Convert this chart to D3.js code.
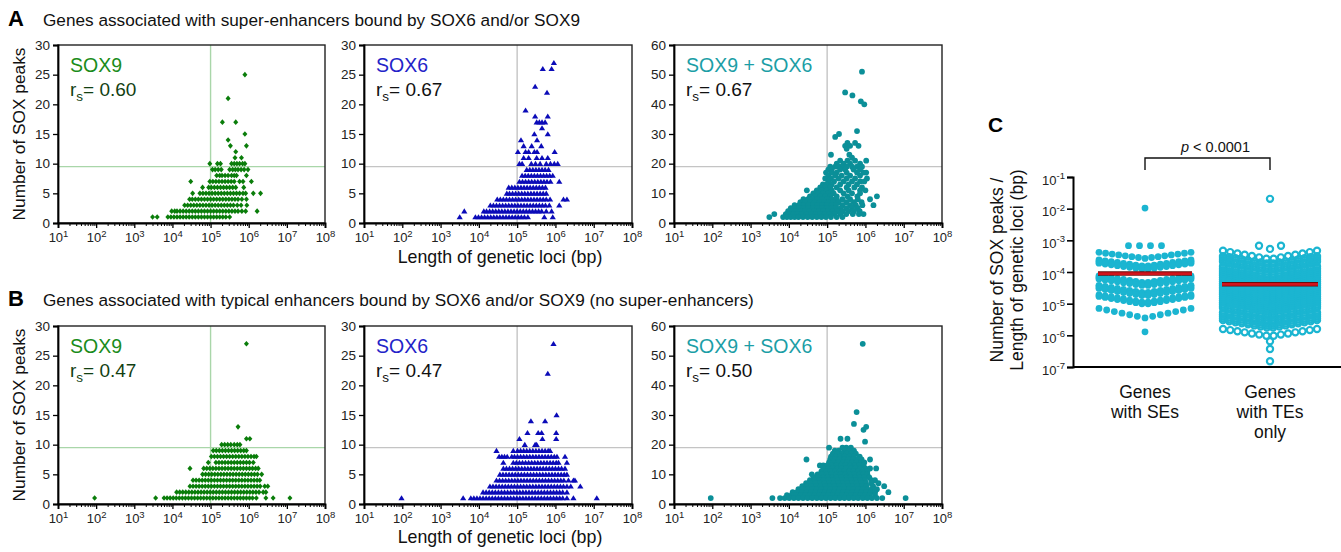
<!DOCTYPE html>
<html><head><meta charset="utf-8">
<script src="https://cdn.jsdelivr.net/npm/d3@7"></script>
<style>
body{margin:0;background:#fff}
text{font-family:"Liberation Sans",Arial,sans-serif}
</style>
</head><body>
<svg id="c" width="1341" height="552"></svg>
<script>
// ---------- DATA (x = log10 length of genetic locus, grouped by number of SOX peaks) ----------
const xTickExps = [1,2,3,4,5,6,7,8];
const yTicks30 = [0,5,10,15,20,25,30];
const yTicks60 = [0,10,20,30,40,50,60];
const cTickExps = [-1,-2,-3,-4,-5,-6,-7];
const panelLabels = ["SOX9","SOX6","SOX9 + SOX6"];
const rsA = ["0.60","0.67","0.67"];
const rsB = ["0.47","0.47","0.50"];
const refPeaks = [9.5, 9.5, 19];
const refLength = 1e5;

const aSox9 = [
 [25,[5.90]],[21,[5.46]],[17,[5.31,5.66]],[15,[5.90]],[14,[5.46]],[13,[5.52,5.94]],[12,[5.66]],[11,[5.64,5.81]],
 [10,[4.98,5.18,5.26,5.55,5.62,5.69,5.76,5.84,5.90]],
 [9,[5.05,5.12,5.20,5.28,5.50,5.58,5.65,5.72,5.80,5.88,5.98]],
 [8,[5.16,5.24,5.30,5.38,5.46,5.55,5.62,5.68,5.94]],
 [7,[4.48,4.98,5.06,5.14,5.22,5.30,5.38,5.46,5.54,5.62,5.76,5.85,6.07]],
 [6,[4.79,4.95,5.02,5.10,5.18,5.26,5.34,5.42,5.50,5.58,5.66,5.87]],
 [5,[4.53,4.72,4.80,4.88,4.96,5.04,5.12,5.20,5.28,5.36,5.44,5.52,5.60,5.68,5.76,5.85,5.92,6.12,6.31]],
 [4,[4.45,4.52,4.60,4.68,4.76,4.84,4.92,5.00,5.08,5.16,5.24,5.32,5.40,5.48,5.56,5.64,5.72,5.82,5.94]],
 [3,[4.32,4.40,4.48,4.56,4.64,4.72,4.80,4.88,4.96,5.04,5.12,5.20,5.28,5.36,5.44,5.52,5.60,5.70,5.80,5.95]],
 [2,[3.98,4.06,4.12,4.20,4.28,4.36,4.44,4.52,4.60,4.68,4.76,4.84,4.92,5.00,5.08,5.16,5.24,5.32,5.40,5.48,5.56,5.64,5.72,5.82,5.92,6.22]],
 [1,[3.48,3.60,3.88,3.96,4.04,4.12,4.20,4.28,4.36,4.44,4.52,4.60,4.68,4.76,4.84,4.92,5.00,5.08,5.16,5.24,5.32,5.40,5.50]]
];
const aSox6 = [
 [27,[5.96]],[26,[5.67,5.90]],[23,[5.47]],[22,[5.78]],[19,[5.22]],[18,[5.47,5.80]],[17,[5.51,5.58,5.65,5.73]],[16,[5.65]],
 [15,[5.45,5.80]],[14,[5.10,5.52]],[13,[5.17,5.38,5.63]],[12,[5.02,5.22,5.30,5.45,5.52,5.98]],[11,[5.17,5.30,5.51,5.65,5.80]],
 [10,[5.06,5.13,5.37,5.48,5.60,5.76,5.87,5.97,6.06]],
 [9,[5.25,5.33,5.41,5.49,5.57,5.65,5.73,5.82]],
 [8,[5.13,5.21,5.29,5.37,5.45,5.53,5.61,5.69,5.77,5.85,5.93]],
 [7,[5.06,5.14,5.22,5.30,5.38,5.46,5.54,5.62,5.70,5.78,5.87,6.10]],
 [6,[4.78,4.86,4.94,5.02,5.10,5.18,5.26,5.34,5.42,5.50,5.58,5.66,5.74]],
 [5,[4.73,4.80,4.88,4.96,5.04,5.12,5.20,5.28,5.36,5.44,5.52,5.60,5.68,5.76]],
 [4,[4.48,4.56,4.64,4.72,4.80,4.88,4.96,5.04,5.12,5.20,5.28,5.36,5.44,5.52,5.60,5.68,5.76,5.86,6.21,6.30]],
 [3,[4.30,4.38,4.46,4.54,4.62,4.70,4.78,4.86,4.94,5.02,5.10,5.18,5.26,5.34,5.42,5.50,5.58,5.66,5.74,5.84,6.10]],
 [2,[3.62,4.13,4.20,4.28,4.36,4.44,4.52,4.60,4.68,4.76,4.84,4.92,5.00,5.08,5.16,5.24,5.32,5.40,5.48,5.56,5.64,5.76,5.90]],
 [1,[3.50,3.91,3.99,4.07,4.15,4.23,4.31,4.39,4.47,4.55,4.63,4.71,4.79,4.87,4.95,5.03,5.11,5.19,5.28,5.71,5.93]]
];
const aBoth = [
 [51,[5.91]],[44,[5.47]],[43,[5.66]],[41,[5.88]],[40,[5.97]],[31,[5.78]],[30,[5.31]],[29,[5.21]],
 [27,[5.53,5.73]],[26,[5.47,5.60,5.82]],[25,[5.51]],[23,[5.10,5.58]],[22,[5.65]],
 [21,[5.34,5.53,5.73,6.02]],[20,[5.25,5.43,5.60,5.86]],
 [19,[5.08,5.21,5.30,5.38,5.51,5.65,5.78,5.91]],
 [18,[5.03,5.12,5.34,5.47,5.69,5.86]],
 [17,[4.97,5.12,5.25,5.51,5.78,5.95,6.02]],
 [16,[5.03,5.21,5.38,5.60,5.86]],
 [15,[4.95,5.10,5.30,5.51,5.73,6.04]],
 [14,[5.03,5.18,5.43,5.65,5.86,5.97]],
 [13,[4.89,4.99,5.12,5.34,5.56,5.78]],
 [12,[4.82,4.95,5.08,5.25,5.51,5.71,5.91]],
 [11,[4.47,4.73,4.86,4.99,5.12,5.34,5.56,5.86,6.00]],
 [10,[4.64,4.77,4.90,5.03,5.17,5.43,5.65,5.86]],
 [9,[4.55,4.69,4.82,4.95,5.08,5.25,5.53,5.79,6.30]],
 [8,[4.38,4.50,4.62,4.75,4.88,5.00,5.12,5.25,5.40,5.60,5.80,6.12]],
 [7,[4.30,4.42,4.55,4.67,4.80,4.92,5.04,5.16,5.30,5.50,5.70,5.90]],
 [6,[4.15,4.27,4.39,4.51,4.63,4.75,4.87,4.99,5.11,5.23,5.40,5.60,5.75,5.92,6.21]],
 [5,[4.05,4.15,4.27,4.39,4.51,4.63,4.75,4.87,4.99,5.11,5.23,5.35,5.50,5.65,5.80]],
 [4,[3.98,4.08,4.18,4.30,4.42,4.54,4.66,4.78,4.90,5.02,5.14,5.26,5.40,5.55,5.70,5.85]],
 [3,[3.62,3.92,4.02,4.12,4.22,4.34,4.46,4.58,4.70,4.82,4.94,5.06,5.20,5.35,5.50,5.67,5.83,5.95]],
 [2,[3.49,3.85,3.95,4.05,4.15,4.25,4.37,4.49,4.61,4.73,4.85,4.97,5.10,5.25,5.40]]
];
const bSox9 = [
 [27,[5.94]],[13,[5.72]],[11,[5.94,6.03]],
 [10,[5.29,5.37,5.45,5.53,5.62,5.70,5.77]],
 [9,[5.07,5.15,5.23,5.31,5.39,5.47,5.55,5.63,5.71,5.79,5.87,5.94]],
 [8,[5.02,5.10,5.18,5.26,5.34,5.42,5.50,5.58,5.66,5.74,5.82,5.90,5.98,6.06,6.14,6.20]],
 [7,[4.94,5.14,5.22,5.30,5.38,5.46,5.54,5.62,5.70,5.78,5.86,5.94,6.02,6.12]],
 [6,[4.46,4.82,4.90,4.98,5.06,5.14,5.22,5.30,5.38,5.46,5.54,5.62,5.70,5.78,5.86,5.94,6.02,6.10,6.18,6.25]],
 [5,[4.79,4.87,4.95,5.03,5.11,5.19,5.27,5.35,5.43,5.51,5.59,5.67,5.75,5.83,5.91,5.99,6.07,6.15,6.23,6.34]],
 [4,[4.54,4.62,4.70,4.78,4.86,4.94,5.02,5.10,5.18,5.26,5.34,5.42,5.50,5.58,5.66,5.74,5.82,5.90,5.98,6.06,6.14,6.22,6.29]],
 [3,[4.46,4.54,4.62,4.70,4.78,4.86,4.94,5.02,5.10,5.18,5.26,5.34,5.42,5.50,5.58,5.66,5.74,5.82,5.90,5.98,6.06,6.14,6.22,6.30,6.42,6.50]],
 [2,[4.11,4.19,4.27,4.35,4.43,4.51,4.59,4.67,4.75,4.83,4.91,4.99,5.07,5.15,5.23,5.31,5.39,5.47,5.55,5.63,5.71,5.79,5.87,5.95,6.03,6.11,6.19,6.27,6.38,6.45]],
 [1,[1.96,3.56,3.78,3.86,3.94,4.02,4.10,4.18,4.26,4.34,4.42,4.50,4.58,4.66,4.74,4.82,4.90,4.98,5.06,5.14,5.22,5.30,5.38,5.46,5.54,5.62,5.70,5.78,5.86,5.94,6.02,6.10,6.20,6.45,6.64,7.08]]
];
const bSox6 = [
 [27,[5.95]],[22,[5.80]],[15,[6.03]],[14,[5.36,5.73]],[12,[5.27,5.55,5.64,6.02]],[11,[5.06,5.66,6.02]],[10,[5.20,5.47,5.51]],
 [9,[4.46,4.90,5.01,5.09,5.17,5.25,5.33,5.41,5.49,5.57,5.65,5.73,5.81,5.86]],
 [8,[4.53,4.60,4.67,4.74,4.86,4.93,5.01,5.09,5.17,5.25,5.33,5.41,5.49,5.57,5.65,5.73,5.81,5.89,5.97,6.04,6.25]],
 [7,[4.64,4.90,4.98,5.06,5.14,5.22,5.30,5.38,5.46,5.54,5.62,5.70,5.78,5.86,5.94,6.02,6.08,6.30]],
 [6,[4.64,4.72,4.80,4.88,4.96,5.04,5.12,5.20,5.28,5.36,5.44,5.52,5.60,5.68,5.76,5.84,5.92,6.00,6.08,6.16,6.25]],
 [5,[4.55,4.63,4.71,4.79,4.87,4.95,5.03,5.11,5.19,5.27,5.35,5.43,5.51,5.59,5.67,5.75,5.83,5.91,5.99,6.07,6.15,6.23,6.30]],
 [4,[4.46,4.54,4.62,4.70,4.78,4.86,4.94,5.02,5.10,5.18,5.26,5.34,5.42,5.50,5.58,5.66,5.74,5.82,5.90,5.98,6.06,6.14,6.22,6.34,6.47,6.51]],
 [3,[4.29,4.37,4.45,4.53,4.61,4.69,4.77,4.85,4.93,5.01,5.09,5.17,5.25,5.33,5.41,5.49,5.57,5.65,5.73,5.81,5.89,5.97,6.05,6.13,6.21,6.30,6.40,6.65]],
 [2,[4.11,4.19,4.27,4.35,4.43,4.51,4.59,4.67,4.75,4.83,4.91,4.99,5.07,5.15,5.23,5.31,5.39,5.47,5.55,5.63,5.71,5.79,5.87,5.95,6.03,6.11,6.19,6.30]],
 [1,[1.98,3.59,3.79,3.87,3.95,4.03,4.11,4.19,4.27,4.35,4.43,4.51,4.59,4.67,4.75,4.83,4.91,4.99,5.07,5.15,5.23,5.31,5.39,5.47,5.55,5.63,5.71,5.79,5.87,5.95,6.03,6.11,6.19,6.30,6.47,7.08]]
];
const bBoth = [
 [54,[5.93]],[31,[5.77]],[27,[5.70]],[26,[6.02]],[25,[5.95]],[22,[5.35,5.53]],[21,[5.99]],
 [19,[5.05,5.40,5.50,5.62]],
 [18,[5.20,5.30,5.45,5.58,5.70]],
 [17,[5.15,5.27,5.39,5.51,5.63,5.75]],
 [16,[5.10,5.22,5.34,5.46,5.58,5.70,5.85]],
 [15,[4.46,5.08,5.20,5.32,5.44,5.56,5.68,5.80,5.90,6.12]],
 [14,[5.05,5.17,5.29,5.41,5.53,5.65,5.77,5.89,5.97]],
 [13,[4.81,4.90,5.00,5.12,5.24,5.36,5.48,5.60,5.72,5.84,5.95]],
 [12,[4.90,5.02,5.14,5.26,5.38,5.50,5.62,5.74,5.86,6.00,6.12,6.28]],
 [11,[4.85,4.97,5.09,5.21,5.33,5.45,5.57,5.69,5.81,5.93,6.05]],
 [10,[4.60,4.75,4.87,4.99,5.11,5.23,5.35,5.47,5.59,5.71,5.83,5.95,6.05]],
 [9,[4.65,4.77,4.89,5.01,5.13,5.25,5.37,5.49,5.61,5.73,5.85,5.97,6.10]],
 [8,[4.55,4.67,4.79,4.91,5.03,5.15,5.27,5.39,5.51,5.63,5.75,5.87,5.99,6.15,6.25]],
 [7,[4.45,4.57,4.69,4.81,4.93,5.05,5.17,5.29,5.41,5.53,5.65,5.77,5.89,6.01,6.15,6.34]],
 [6,[4.35,4.47,4.59,4.71,4.83,4.95,5.07,5.19,5.31,5.43,5.55,5.67,5.79,5.91,6.03,6.20,6.49]],
 [5,[4.25,4.37,4.49,4.61,4.73,4.85,4.97,5.09,5.21,5.33,5.45,5.57,5.69,5.81,5.93,6.05,6.17,6.30]],
 [4,[4.10,4.22,4.34,4.46,4.58,4.70,4.82,4.94,5.06,5.18,5.30,5.42,5.54,5.66,5.78,5.90,6.02,6.14,6.25,6.60]],
 [3,[3.95,4.07,4.19,4.31,4.43,4.55,4.67,4.79,4.91,5.03,5.15,5.27,5.39,5.51,5.63,5.75,5.87,5.99,6.11,6.25]],
 [2,[1.96,3.57,3.77,3.89,4.01,4.13,4.25,4.37,4.49,4.61,4.73,4.85,4.97,5.09,5.21,5.33,5.45,5.57,5.69,5.81,5.93,6.05,6.17,6.30,6.44,7.05]]
];
// Panel C: log10(peaks / length); rows of the scatter: [value at row edge, value at row centre, number of genes]
const cCategories = [["Genes","with SEs"],["Genes","with TEs","only"]];
const seRows = [
 [-1.98,-1.98,1],[-3.17,-3.17,4],[-3.38,-3.57,15],
 [-3.62,-3.82,16],[-3.67,-3.87,16],[-3.72,-3.92,16],
 [-4.12,-4.34,16],[-4.17,-4.39,16],[-4.22,-4.44,16],
 [-4.42,-4.66,16],[-4.47,-4.71,16],[-4.52,-4.76,16],
 [-4.72,-4.97,16],[-4.77,-5.02,16],
 [-5.15,-5.45,13],[-5.89,-5.89,1]
];
const teRows = [
 [-1.69,-1.69,1],[-3.17,-3.27,3],[-3.33,-3.60,14],
 [-3.50,-3.75,16],[-3.56,-3.81,16],[-3.62,-3.87,16],[-3.68,-3.93,16],
 [-3.82,-4.07,16],[-3.88,-4.13,16],[-3.94,-4.19,16],[-4.00,-4.25,16],[-4.06,-4.31,16],[-4.12,-4.37,16],
 [-4.18,-4.43,16],[-4.24,-4.49,16],[-4.30,-4.55,16],[-4.36,-4.61,16],[-4.42,-4.67,16],[-4.48,-4.73,16],
 [-4.54,-4.79,16],[-4.60,-4.85,16],[-4.66,-4.91,16],[-4.72,-4.97,16],[-4.78,-5.03,16],[-4.84,-5.09,16],
 [-4.90,-5.15,16],[-4.96,-5.21,16],[-5.02,-5.27,16],[-5.08,-5.33,16],[-5.14,-5.39,16],
 [-5.28,-5.53,16],[-5.34,-5.59,16],[-5.40,-5.65,16],[-5.46,-5.71,16],[-5.52,-5.77,16],
 [-5.80,-6.03,14],[-6.19,-6.19,1],[-6.43,-6.43,1],[-6.82,-6.82,1]
];
const cMedians = [-4.05, -4.39];
const pText = "< 0.0001";

// ---------- DRAWING ----------
const svg = d3.select("#c");
const cols = [[58,325],[364,632],[674,942]];
const rowsY = [[45,223],[326,504]];
const colors = {
  mark:["#0a7d0a","#0b0bb8","#0b8f98"],
  label:["#1b8c1b","#2323c8","#1c9ea6"],
  rs:["#123f12","#111","#111"],
  ref:["#a9d6a9","#c4c4c4","#c4c4c4"]
};
const shapes = ["M0,-2.8L2.5,0L0,2.8L-2.5,0Z","M0,-2.8L3.1,2.3L-3.1,2.3Z",null];

function sup(sel, exp, size, dy){
  sel.text(null);
  sel.append("tspan").text("10");
  sel.append("tspan").attr("dy", dy).attr("font-size", size).text(exp);
}

function scatter(data, ci, ri, rs){
  const [x0,x1] = cols[ci], [y0,y1] = rowsY[ri];
  const ymax = ci===2 ? 60 : 30;
  const x = d3.scaleLog().domain([10,1e8]).range([x0,x1]);
  const y = d3.scaleLinear().domain([0,ymax]).range([y1,y0]);
  const g = svg.append("g");
  g.append("line").attr("x1",x(refLength)).attr("x2",x(refLength)).attr("y1",y0).attr("y2",y1)
   .attr("stroke",colors.ref[ci]).attr("stroke-width",1.4);
  g.append("line").attr("x1",x0).attr("x2",x1).attr("y1",y(refPeaks[ci])).attr("y2",y(refPeaks[ci]))
   .attr("stroke",colors.ref[ci]).attr("stroke-width",1.4);
  const pts = [];
  data.forEach(([v,xs]) => xs.forEach(lx => pts.push([Math.pow(10,lx), v])));
  if (shapes[ci]) {
    g.selectAll("path.pt").data(pts).join("path").attr("class","pt")
     .attr("d",shapes[ci]).attr("transform",d=>`translate(${x(d[0])},${y(d[1])})`)
     .attr("fill",colors.mark[ci]);
  } else {
    g.selectAll("circle.pt").data(pts).join("circle").attr("class","pt")
     .attr("cx",d=>x(d[0])).attr("cy",d=>y(d[1])).attr("r",2.9).attr("fill",colors.mark[ci]);
  }
  g.append("rect").attr("x",x0).attr("y",y0).attr("width",x1-x0).attr("height",y1-y0)
   .attr("fill","none").attr("stroke","#222").attr("stroke-width",1.4);
  const ya = g.append("g").attr("transform",`translate(${x0},0)`)
    .call(d3.axisLeft(y).tickValues(ci===2?yTicks60:yTicks30).tickSize(5).tickPadding(3));
  ya.select(".domain").attr("stroke","#000").attr("stroke-width",1.8);
  ya.selectAll(".tick line").attr("stroke","#000").attr("stroke-width",1.3);
  ya.selectAll(".tick text").attr("font-size",13.5).attr("fill","#222").attr("font-family",null);
  const minor = [];
  for (let e=1;e<8;e++) for (let m=2;m<10;m++) minor.push(m*Math.pow(10,e));
  const xm = g.append("g").attr("transform",`translate(0,${y1})`)
    .call(d3.axisBottom(x).tickValues(minor).tickSize(3).tickFormat(""));
  xm.select(".domain").remove();
  xm.selectAll(".tick line").attr("stroke","#000").attr("stroke-width",1);
  const xa = g.append("g").attr("transform",`translate(0,${y1})`)
    .call(d3.axisBottom(x).tickValues(xTickExps.map(e=>Math.pow(10,e))).tickSize(5).tickPadding(5).tickFormat(""));
  xa.select(".domain").attr("stroke","#000").attr("stroke-width",1.8);
  xa.selectAll(".tick line").attr("stroke","#000").attr("stroke-width",1.3);
  xa.selectAll(".tick text").attr("font-size",13).attr("fill","#222").attr("font-family",null)
    .each(function(d,i){ sup(d3.select(this), String(xTickExps[i]), 9.5, -5.5); });
  g.append("text").attr("x",x0+12).attr("y",y0+27).attr("font-size",19.5).attr("fill",colors.label[ci]).text(panelLabels[ci]);
  const t = g.append("text").attr("x",x0+12).attr("y",y0+51).attr("font-size",19).attr("fill",colors.rs[ci]);
  t.append("tspan").text("r");
  t.append("tspan").attr("dy",5).attr("font-size",13.5).text("s");
  t.append("tspan").attr("dy",-5).text("= "+rs);
}

[aSox9,aSox6,aBoth].forEach((d,i)=>scatter(d,i,0,rsA[i]));
[bSox9,bSox6,bBoth].forEach((d,i)=>scatter(d,i,1,rsB[i]));

function title(letter, txt, yb){
  svg.append("text").attr("x",8).attr("y",yb).attr("font-size",22).attr("font-weight","bold").text(letter);
  svg.append("text").attr("x",43).attr("y",yb).attr("font-size",17.2).attr("fill","#111").text(txt);
}
title("A","Genes associated with super-enhancers bound by SOX6 and/or SOX9",26);
title("B","Genes associated with typical enhancers bound by SOX6 and/or SOX9 (no super-enhancers)",306);

[134,415].forEach(cy=>{
  svg.append("text").attr("transform",`translate(25,${cy}) rotate(-90)`).attr("text-anchor","middle")
    .attr("font-size",17.3).attr("fill","#111").text("Number of SOX peaks");
});
[263,543].forEach(yb=>{
  svg.append("text").attr("x",500).attr("y",yb).attr("text-anchor","middle")
    .attr("font-size",17.8).attr("fill","#111").text("Length of genetic loci (bp)");
});

// ---------- Panel C ----------
const cg = svg.append("g");
const cyS = d3.scaleLog().domain([1e-7,1e-1]).range([367,177]);
const cxS = d3.scalePoint().domain([0,1]).range([1145,1270]);
const halfW = [46,47];
const cColor = "#1bb5d1";
[seRows, teRows].forEach((rows, gi) => {
  const pts = [];
  rows.forEach(([edge, centre, n]) => {
    const step = n > 5 ? 2*halfW[gi]/(n-1) : 11;
    const half = (n-1)/2*step;
    for (let i=0;i<n;i++){
      const d = (i-(n-1)/2)*step;
      const v = half>0 ? centre + (edge-centre)*Math.abs(d)/half : edge;
      pts.push([cxS(gi)+d, Math.pow(10,v)]);
    }
  });
  const sel = cg.selectAll("circle.g"+gi).data(pts).join("circle").attr("class","g"+gi)
    .attr("cx",d=>d[0]).attr("cy",d=>cyS(d[1]));
  if (gi===0) sel.attr("r",3.4).attr("fill",cColor);
  else sel.attr("r",3.1).attr("fill","none").attr("stroke",cColor).attr("stroke-width",2.2);
});
cMedians.forEach((m,gi)=>{
  const xc = cxS(gi), yv = cyS(Math.pow(10,m));
  cg.append("line").attr("x1",xc-halfW[gi]-1).attr("x2",xc+halfW[gi]+1).attr("y1",yv).attr("y2",yv)
    .attr("stroke","#6d0b0b").attr("stroke-width",4.5);
  cg.append("line").attr("x1",xc-halfW[gi]-1).attr("x2",xc+halfW[gi]+1).attr("y1",yv).attr("y2",yv)
    .attr("stroke","#d1141c").attr("stroke-width",2.6);
});
const cya = cg.append("g").attr("transform","translate(1073,0)")
  .call(d3.axisLeft(cyS).tickValues(cTickExps.map(e=>Math.pow(10,e))).tickSize(6).tickPadding(2).tickFormat(""));
cya.select(".domain").attr("stroke","#000").attr("stroke-width",2);
cya.selectAll(".tick line").attr("stroke","#000").attr("stroke-width",1.6);
cya.selectAll(".tick text").attr("font-size",13).attr("fill","#222").attr("font-family",null).attr("dy","0.55em")
  .each(function(d,i){ sup(d3.select(this), String(cTickExps[i]), 9.5, -5.5); });
cg.append("line").attr("x1",1073).attr("x2",1341).attr("y1",367).attr("y2",367).attr("stroke","#000").attr("stroke-width",2);
cCategories.forEach((lines,gi)=>{
  lines.forEach((s,li)=>{
    cg.append("text").attr("x",cxS(gi)).attr("y",398+li*20).attr("text-anchor","middle")
      .attr("font-size",17.5).attr("fill","#111").text(s);
  });
});
[["Number of SOX peaks /",1003],["Length of genetic loci (bp)",1023]].forEach(([s,xb])=>{
  cg.append("text").attr("transform",`translate(${xb},270) rotate(-90)`).attr("text-anchor","middle")
    .attr("font-size",17.5).attr("fill","#111").text(s);
});
cg.append("path").attr("d",`M${cxS(0)},170V158H${cxS(1)}V170`).attr("fill","none").attr("stroke","#111").attr("stroke-width",1.4);
const pt = cg.append("text").attr("x",(cxS(0)+cxS(1))/2+8).attr("y",152).attr("text-anchor","middle").attr("font-size",14.5).attr("fill","#111");
pt.append("tspan").attr("font-style","italic").text("p");
pt.append("tspan").text(" "+pText);
cg.append("text").attr("x",988).attr("y",132).attr("font-size",21).attr("font-weight","bold").text("C");
</script>
</body></html>
